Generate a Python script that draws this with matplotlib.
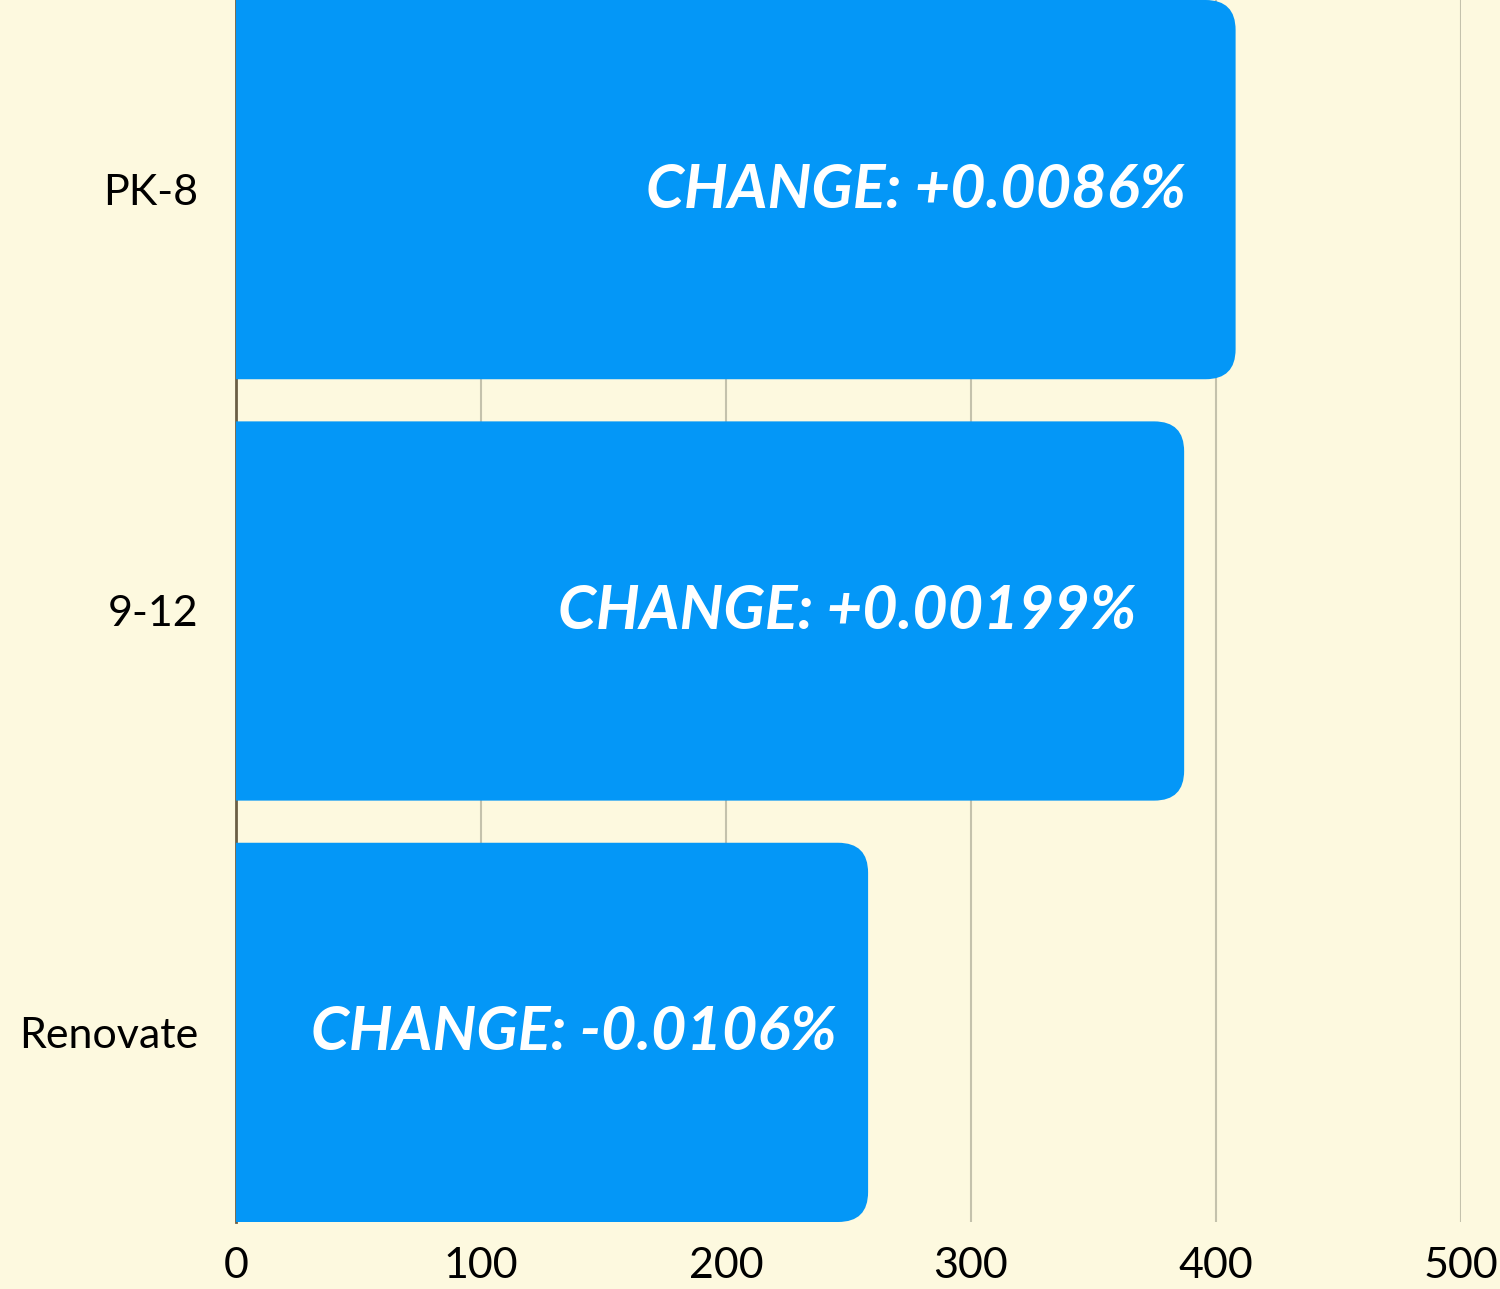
import matplotlib
matplotlib.use("Agg")
import matplotlib.pyplot as plt
from matplotlib.patches import FancyBboxPatch

categories = ["PK-8", "9-12", "Renovate"]
values = [408, 387, 258]
change_labels = ["CHANGE: +0.0086%", "CHANGE: +0.00199%", "CHANGE: -0.0106%"]
x_ticks = [0, 100, 200, 300, 400, 500]

bg = "#FDF9DF"
bar_color = "#0497F7"

plt.rcParams["font.family"] = ["Lato", "DejaVu Sans"]

fig = plt.figure(figsize=(15, 12.89), dpi=100, facecolor=bg)
ax = fig.add_axes([236 / 1500, 67 / 1289, 1225 / 1500, 1222 / 1289])
ax.set_facecolor(bg)

ax.set_xlim(0, 500)
ax.set_ylim(len(categories) - 0.55, -0.45)

# pixels per data unit, used for the rounded corner shape
px_x = 1225 / 500
px_y = 1222 / 2.9
radius_px = 30
r = radius_px / px_x
aspect = (radius_px / px_y) / r

bar_h = 0.9
for i, v in enumerate(values):
    patch = FancyBboxPatch((-40, i - bar_h / 2), v + 40, bar_h,
                           boxstyle=f"round,pad=0,rounding_size={r}",
                           mutation_aspect=aspect,
                           facecolor=bar_color, edgecolor="none", zorder=3)
    ax.add_patch(patch)
    ax.text(v * 0.95, i, change_labels[i], ha="right", va="center",
            color="white", fontsize=44, fontweight="bold", fontstyle="italic",
            zorder=4)

ax.set_yticks(range(len(categories)))
ax.set_yticklabels(categories)
ax.set_xticks(x_ticks)
ax.tick_params(axis="both", length=0, labelsize=31, colors="black")
ax.tick_params(axis="y", pad=27)
ax.tick_params(axis="x", pad=18)

ax.grid(axis="x", color="#C4C2AC", linewidth=1.5, zorder=0)
ax.set_axisbelow(True)
for side in ["top", "right", "bottom"]:
    ax.spines[side].set_visible(False)
ax.spines["left"].set_color("#6B5F45")
ax.spines["left"].set_linewidth(2)
ax.spines["left"].set_zorder(2)

fig.savefig("out.png", dpi=100, facecolor=bg)
